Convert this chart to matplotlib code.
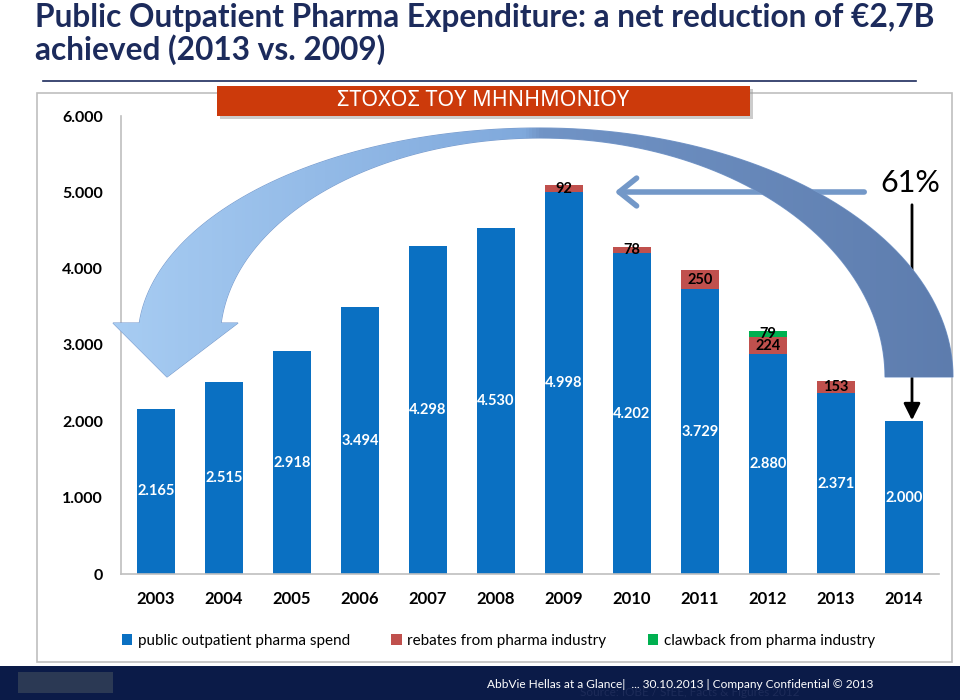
import numpy as np
import matplotlib.pyplot as plt
from matplotlib.patches import Rectangle, PathPatch, FancyArrowPatch
from matplotlib.path import Path
from matplotlib.colors import LinearSegmentedColormap

plt.rcParams['font.family'] = ['Lato', 'Noto Sans', 'DejaVu Sans']

years = ['2003', '2004', '2005', '2006', '2007', '2008', '2009', '2010', '2011', '2012', '2013', '2014']
spend = [2165, 2515, 2918, 3494, 4298, 4530, 4998, 4202, 3729, 2880, 2371, 2000]
rebates = [0, 0, 0, 0, 0, 0, 92, 78, 250, 224, 153, 0]
clawback = [0, 0, 0, 0, 0, 0, 0, 0, 0, 79, 0, 0]
yticks = [0, 1000, 2000, 3000, 4000, 5000, 6000]

BLUE = '#0a70c2'
RED = '#c0504d'
GREEN = '#00b050'
NAVY = '#1c2b5c'

def fmt(v):
    return f'{v:,}'.replace(',', '.')

fig = plt.figure(figsize=(9.6, 7), dpi=100)

# background layer (pixel coords)
bg = fig.add_axes([0, 0, 1, 1], zorder=0)
bg.set_xlim(0, 960)
bg.set_ylim(700, 0)
bg.axis('off')
bg.add_patch(Rectangle((37, 93), 915, 569, fc='white', ec='#bfbfbf', lw=1.2))
bg.plot([43, 916], [81, 81], color=NAVY, lw=1.2)
bg.add_patch(Rectangle((0, 666), 960, 34, fc='#0b1b48', ec='none'))
bg.add_patch(Rectangle((18, 672), 95, 21, fc='#2b3954', ec='none'))
bg.text(690, 693, 'Source: IOBE / SfEE, Facts & Figures 2012', color='#1d2b58',
        fontsize=8.5, ha='center', va='center')
bg.text(680, 685, 'AbbVie Hellas at a Glance|  ... 30.10.2013 | Company Confidential \u00a9 2013',
        color='white', fontsize=8.6, ha='center', va='center')
fig.text(35 / 960, 1 - 17 / 700, 'Public Outpatient Pharma Expenditure: a net reduction of \u20ac2,7B',
         color=NAVY, fontsize=22.8, fontweight='bold', va='center', ha='left')
fig.text(35 / 960, 1 - 50 / 700, 'achieved (2013 vs. 2009)',
         color=NAVY, fontsize=22.8, fontweight='bold', va='center', ha='left')

# chart
ax = fig.add_axes([121 / 960, 126 / 700, 818 / 960, 458 / 700], zorder=1)
ax.patch.set_alpha(0)
x = np.arange(len(years))
w = 0.56
bottom2 = [s + r for s, r in zip(spend, rebates)]
ax.bar(x, spend, w, color=BLUE, label='public outpatient pharma spend', zorder=2)
ax.bar(x, rebates, w, bottom=spend, color=RED, label='rebates from pharma industry', zorder=2)
ax.bar(x, clawback, w, bottom=bottom2, color=GREEN, label='clawback from pharma industry', zorder=2)

for i, v in enumerate(spend):
    ax.text(x[i], v / 2, fmt(v), color='white', fontsize=10.5, fontweight='bold',
            ha='center', va='center', zorder=3)
for i, v in enumerate(rebates):
    if v:
        ax.text(x[i], spend[i] + v / 2, str(v), color='black', fontsize=10.5,
                fontweight='bold', ha='center', va='center', zorder=3)
for i, v in enumerate(clawback):
    if v:
        ax.text(x[i], bottom2[i] + v / 2, str(v), color='black', fontsize=10.5,
                fontweight='bold', ha='center', va='center', zorder=3)

ax.set_xlim(-0.515, 11.515)
ax.set_ylim(0, 6000)
ax.set_yticks(yticks)
ax.set_yticklabels([fmt(v) for v in yticks], fontsize=11.5, fontweight='bold')
ax.set_xticks(x)
ax.set_xticklabels(years, fontsize=12, fontweight='bold')
ax.tick_params(axis='y', length=0, pad=13)
ax.tick_params(axis='x', length=0, pad=12)
for s in ['top', 'right']:
    ax.spines[s].set_visible(False)
for s in ['left', 'bottom']:
    ax.spines[s].set_color('#bfbfbf')
    ax.spines[s].set_linewidth(1.2)

fig.legend(loc='center', bbox_to_anchor=(0.519, 1 - 641 / 700), ncol=3, frameon=False,
           fontsize=11, handlelength=0.7, handleheight=0.7, handletextpad=0.35,
           columnspacing=2.7)

# foreground decorations (pixel coords)
fg = fig.add_axes([0, 0, 1, 1], zorder=3)
fg.axis('off')

# banner
fg.add_patch(Rectangle((220, 89), 533, 30, fc='#9a9a9a', ec='none', alpha=0.5))
fg.add_patch(Rectangle((217, 86), 533, 30, fc='#cc3a0b', ec='none'))
fg.text(483, 101, 'ΣΤΟΧΟΣ ΤΟΥ ΜΗΝΗΜΟΝΙΟΥ', color='white', fontsize=15.5,
        family=['Noto Sans', 'DejaVu Sans'], ha='center', va='center')

# 61% and arrows
fg.text(910, 183, '61%', fontsize=22, ha='center', va='center', color='black')
fg.add_patch(FancyArrowPatch((867, 192), (612, 192),
                             arrowstyle='->,head_length=0.5,head_width=0.4',
                             mutation_scale=25, lw=4, color='#7398c8'))
fg.add_patch(FancyArrowPatch((912, 202), (912, 423),
                             arrowstyle='-|>,head_length=0.5,head_width=0.25',
                             mutation_scale=20, lw=2, color='black'))

# big curved arrow
t1 = np.linspace(np.arcsin(17 / 212), np.pi / 2, 60)
outer_l = np.column_stack([540 - 402 * np.cos(t1), 340 - 212 * np.sin(t1)])
t2 = np.linspace(np.pi / 2, 0, 60)
outer_r = np.column_stack([540 + 413 * np.cos(t2), 377 - 249 * np.sin(t2)])
t3 = np.linspace(0, np.pi / 2, 60)
inner_r = np.column_stack([540 + 345 * np.cos(t3), 377 - 239 * np.sin(t3)])
t4 = np.linspace(np.pi / 2, np.arcsin(17 / 202), 60)
inner_l = np.column_stack([540 - 320 * np.cos(t4), 340 - 202 * np.sin(t4)])
pts = np.vstack([[[167, 377], [113, 323]], outer_l, outer_r, inner_r, inner_l,
                 [[238, 323], [167, 377]]])
codes = [Path.MOVETO] + [Path.LINETO] * (len(pts) - 2) + [Path.CLOSEPOLY]
band = PathPatch(Path(pts, codes), fc='none', ec='#7a9ccd', lw=0.8)
fg.add_patch(band)
cmap = LinearSegmentedColormap.from_list('arr', [(0, '#a8cdf3'), (0.49, '#80a9dc'),
                                                 (0.51, '#7194c6'), (1, '#5d7cad')])
grad = np.tile(np.linspace(0, 1, 256), (50, 1))
im = fg.imshow(grad, cmap=cmap, extent=(105, 960, 400, 120), aspect='auto', zorder=1)
im.set_clip_path(band)
fg.set_xlim(0, 960)
fg.set_ylim(700, 0)

fig.savefig('out.png', dpi=100)
